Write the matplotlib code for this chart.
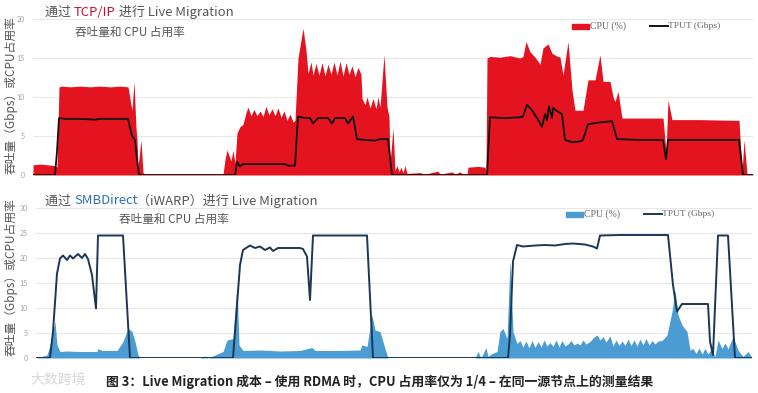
import matplotlib
matplotlib.use("Agg")
import matplotlib.pyplot as plt
from matplotlib.patches import Rectangle
from matplotlib.lines import Line2D

plt.rcParams['font.family'] = ['Noto Sans CJK SC', 'DejaVu Sans']

# ---------------- data: (time sample, value) ----------------
tcp_cpu = [(33,1.3),(40,1.4),(48,1.3),(55,1.2),(57,1.0),(59,11.3),(62,11.4),(70,11.3),(80,11.4),(90,11.3),
           (100,11.4),(110,11.3),(120,11.4),(128,11.3),(131,9.0),(132,8.3),(134,12.0),(136,6.0),(137,4.5),
           (138,1.0),(141,4.5),(143,0.3),(145,0.1),(223,0.1),(225,2.0),(227,3.2),(229,2.5),(231,1.8),(233,3.2),
           (235,1.5),(237,5.4),(240,6.2),(243,6.5),(246,8.0),(248,8.7),(251,7.6),(254,8.4),(257,7.6),(260,8.2),
           (263,7.5),(266,8.8),(269,7.7),(272,8.5),(275,7.6),(278,8.6),(281,7.4),(284,8.2),(287,7.0),(290,7.8),
           (293,6.8),(295,7.0),(298,15.0),(303,18.8),(306,16.0),(308,13.0),(311,14.5),(313,12.8),(316,14.3),
           (319,12.8),(322,14.4),(325,12.7),(328,14.2),(331,12.9),(334,14.5),(337,12.8),(340,14.6),(343,12.7),
           (346,14.4),(349,12.9),(352,14.0),(355,12.6),(358,13.8),(361,12.9),(362,9.8),(365,9.0),(367,10.0),
           (370,8.6),(373,9.8),(376,8.5),(378,10.0),(380,8.7),(384,15.4),(387,8.7),(389,7.5),(390,1.5),
           (393,6.0),(395,0.6),(397,1.2),(399,0.4),(401,1.0),(403,0.3),(405,1.2),(407,0.2),(420,0.3),(425,0.1),
           (438,0.5),(440,0.1),(452,0.4),(455,0.1),(460,0.4),(463,0.1),(467,0.1),(468,1.0),(478,1.1),(485,1.0),
           (486,0.5),(487,15.0),(490,15.2),(500,15.1),(510,15.3),(520,15.0),(523,15.2),(526,17.1),(530,15.8),
           (535,15.1),(540,14.2),(543,16.3),(548,16.8),(552,15.6),(556,15.3),(560,15.1),(563,12.8),(568,17.1),
           (572,10.9),(575,8.3),(583,8.3),(588,12.2),(595,12.2),(600,15.4),(603,12.0),(610,12.0),(613,10.0),
           (615,9.4),(618,10.7),(622,7.3),(640,7.3),(663,7.3),(666,3.0),(668,9.6),(672,7.1),(700,7.1),
           (739,7.0),(742,0.3),(744,4.5),(747,0.2),(753,0.1)]
tcp_tput = [(33,0),(55,0),(57,3.0),(59,7.3),(65,7.2),(80,7.2),(95,7.1),(100,7.2),(110,7.2),(128,7.2),
            (131,5.5),(132,5.0),(135,4.5),(137,2.0),(139,0),(235,0),(237,1.7),(240,1.1),(243,1.4),(260,1.4),
            (285,1.4),(288,1.2),(295,1.2),(298,7.5),(305,7.3),(310,7.3),(313,6.6),(318,7.3),(328,7.3),
            (332,6.6),(335,7.3),(345,7.3),(348,6.6),(353,7.5),(357,4.6),(365,4.5),(375,4.4),(380,4.6),
            (388,4.6),(392,0),(487,0),(490,7.4),(505,7.3),(520,7.4),(523,7.5),(527,9.0),(532,8.3),(537,7.3),
            (542,6.2),(545,7.8),(547,7.0),(549,8.8),(552,7.3),(553,8.6),(557,8.2),(562,7.8),(565,4.5),
            (572,4.2),(580,4.3),(583,4.5),(588,6.5),(597,6.7),(612,6.9),(617,4.6),(640,4.5),(663,4.5),
            (666,2.0),(668,4.5),(700,4.5),(739,4.5),(743,0),(753,0)]

smb_cpu = [(36,0),(47,0.6),(50,2.6),(53,5.3),(55,7.3),(57,2.6),(60,1.3),(67,1.4),(80,1.3),(90,1.3),(97,1.3),
           (98,1.9),(102,1.5),(117,1.5),(123,3.3),(128,5.9),(132,5.3),(135,3.3),(138,0.6),(140,0),(200,0),
           (205,0.4),(208,0),(223,1.3),(227,3.6),(233,3.9),(237,14.6),(239,2.6),(243,1.5),(260,1.6),(280,1.4),
           (300,1.5),(312,2.1),(315,1.5),(340,1.5),(360,1.6),(362,2.6),(367,2.3),(372,8.6),(375,5.6),(380,5.3),
           (385,1.9),(388,0),(475,0),(478,1.3),(481,0),(486,2.1),(488,0.3),(492,0.9),(497,1.3),(500,5.3),
           (503,5.9),(507,3.9),(510,19.6),(513,5.3),(517,2.9),(520,3.5),(523,2.2),(526,3.4),(529,2.0),
           (532,3.5),(535,2.1),(538,3.3),(541,2.2),(544,3.6),(547,2.4),(550,3.1),(553,2.3),(556,3.6),(559,2.2),
           (562,3.5),(565,2.4),(568,2.8),(571,3.5),(574,2.6),(577,3.0),(580,2.6),(583,3.6),(586,2.8),(590,3.3),
           (593,4.0),(597,4.6),(600,3.6),(603,4.3),(606,3.2),(610,4.4),(613,2.4),(616,3.6),(619,2.5),(622,3.4),
           (625,2.5),(628,3.8),(631,2.5),(634,3.6),(637,2.4),(640,3.8),(643,2.6),(646,3.9),(649,2.6),(652,3.5),
           (655,2.8),(658,3.4),(662,3.5),(667,4.6),(672,9.3),(675,13.6),(678,8.6),(682,6.6),(687,5.3),
           (690,1.6),(693,1.9),(696,0.9),(699,2.0),(702,0.8),(705,1.9),(708,0.8),(711,1.7),(715,0.3),
           (718,3.6),(722,1.9),(725,3.0),(728,1.8),(733,4.3),(738,1.6),(743,0.3),(748,1.3),(752,0)]
smb_tput = [(36,0),(50,0),(53,5.3),(57,16.9),(60,19.9),(63,20.5),(67,19.6),(70,20.5),(73,19.9),(78,20.8),
            (82,20.0),(85,20.8),(88,19.8),(92,16.6),(96,9.9),(98,24.5),(110,24.5),(123,24.5),(130,0),(233,0),
            (240,18.6),(243,21.6),(250,22.5),(255,22.0),(260,22.3),(265,21.6),(270,22.1),(273,21.4),(278,22.0),
            (290,22.0),(300,22.0),(303,21.8),(307,20.3),(310,11.6),(313,24.5),(330,24.5),(350,24.5),(367,24.5),
            (373,0),(508,0),(510,4.6),(513,19.3),(517,22.6),(523,22.3),(535,22.5),(545,22.6),(555,22.5),
            (565,22.8),(573,22.9),(585,22.7),(593,22.3),(597,21.9),(600,24.5),(620,24.6),(640,24.6),(668,24.6),
            (673,14.6),(677,9.3),(682,10.8),(700,10.8),(708,10.8),(710,3.3),(713,0.6),(718,24.5),(728,24.5),
            (735,0),(752,0)]

top_yticks = [0, 5, 10, 15, 20]
bot_yticks = [0, 5, 10, 15, 20, 25, 30]

def unzip(pairs):
    return [p[0] for p in pairs], [p[1] for p in pairs]

W, H = 758, 393
fig = plt.figure(figsize=(W / 100, H / 100), dpi=100)
fig.patch.set_facecolor('white')

def fx(px):
    return px / W

def fy(py):
    return 1 - py / H

RED = '#e3141f'
BLUE = '#4a9cd3'
NAVY = '#1c3656'
GRID = '#e8e8e8'
TICK = '#a0a0a0'

def style_axes(ax, yticks):
    ax.set_facecolor('none')
    for s in ax.spines.values():
        s.set_visible(False)
    ax.set_yticks(yticks)
    ax.set_xticks([])
    ax.tick_params(axis='y', length=0, labelsize=5, labelcolor=TICK, pad=6)
    for lab in ax.get_yticklabels():
        lab.set_family('Lato')
    ax.grid(axis='y', color=GRID, linewidth=0.8)
    ax.set_axisbelow(True)

# top axes
ax1 = fig.add_axes([fx(33), fy(175), fx(720), 156 / H])
x, y = unzip(tcp_cpu)
ax1.fill_between(x, y, 0, color=RED, linewidth=0, zorder=2)
x, y = unzip(tcp_tput)
ax1.plot(x, y, color='#111111', linewidth=1.3, zorder=3)
ax1.set_xlim(33, 753)
ax1.set_ylim(0, 20)
style_axes(ax1, top_yticks)

# bottom axes
ax2 = fig.add_axes([fx(36), fy(358), fx(716), 150 / H])
x, y = unzip(smb_cpu)
ax2.fill_between(x, y, 0, color=BLUE, linewidth=0, zorder=2)
x, y = unzip(smb_tput)
ax2.plot(x, y, color=NAVY, linewidth=1.4, zorder=3)
ax2.set_xlim(36, 752)
ax2.set_ylim(0, 30)
style_axes(ax2, bot_yticks)

# y labels
ylab = '吞吐量（Gbps）或CPU占用率'
fig.text(fx(11), fy(95), ylab, rotation=90, ha='center', va='center',
         fontsize=8.5, color='#555555')
fig.text(fx(11), fy(277), ylab, rotation=90, ha='center', va='center',
         fontsize=8.5, color='#555555')

renderer = fig.canvas.get_renderer()

def parts_text(px, py, parts, size):
    x = px
    for s, c in parts:
        t = fig.text(fx(x), fy(py), s, color=c, fontsize=size, ha='left', va='center')
        bb = t.get_window_extent(renderer)
        x = bb.x1

GREY = '#555555'
parts_text(45, 12, [('通过 ', GREY), ('TCP/IP', '#c8102e'), (' 进行 Live Migration', GREY)], 9.4)
fig.text(fx(75), fy(32), '吞吐量和 CPU 占用率', fontsize=8.4, color=GREY, ha='left', va='center')
parts_text(45, 201, [('通过 ', GREY), ('SMBDirect', '#2d6fb5'), ('（iWARP）进行 Live Migration', GREY)], 9.4)
fig.text(fx(119), fy(219), '吞吐量和 CPU 占用率', fontsize=8.4, color=GREY, ha='left', va='center')

# legends
def legend(py, patch_color, line_color, x0):
    fig.add_artist(Rectangle((fx(x0), fy(py + 2.5)), fx(17), 5 / H, color=patch_color,
                             transform=fig.transFigure))
    fig.text(fx(x0 + 18), fy(py), 'CPU (%)', fontsize=7, family='Liberation Serif',
             color='#666666', ha='left', va='center')
    fig.add_artist(Line2D([fx(x0 + 78), fx(x0 + 96)], [fy(py), fy(py)], color=line_color,
                          linewidth=1.4, transform=fig.transFigure))
    fig.text(fx(x0 + 96), fy(py), 'TPUT (Gbps)', fontsize=6.8, family='Liberation Serif',
             color='#666666', ha='left', va='center')

legend(26, RED, '#111111', 572)
legend(214, BLUE, NAVY, 566)

# caption and watermark
fig.text(fx(106), fy(382), '图 3：Live Migration 成本 – 使用 RDMA 时，CPU 占用率仅为 1/4 – 在同一源节点上的测量结果',
         fontsize=9.3, fontweight='bold', color='#222222', ha='left', va='center')
fig.text(fx(30), fy(380), '大数跨境', fontsize=10, color='#d8d8d8', ha='left', va='center')

fig.savefig('out.png', dpi=100)
